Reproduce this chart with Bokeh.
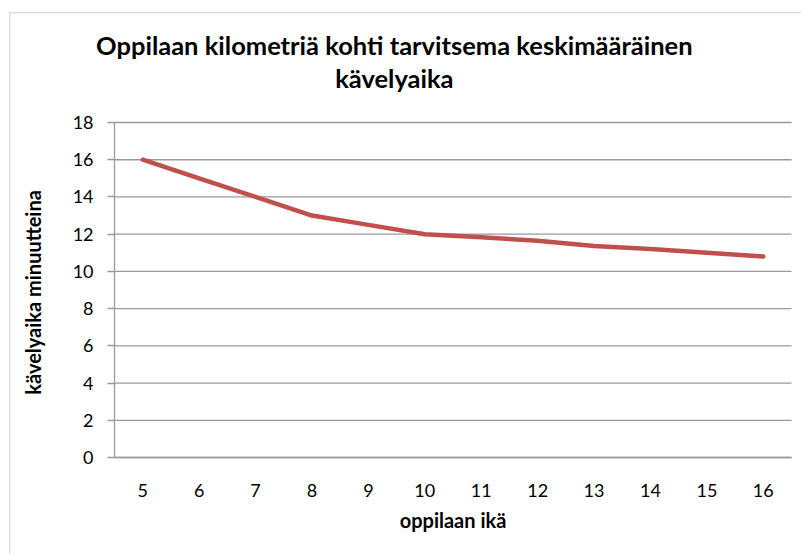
from bokeh.plotting import figure
from bokeh.models import Range1d, FixedTicker, Label, BoxAnnotation
from bokeh.embed import file_html
from bokeh.resources import INLINE

ages = [5, 6, 7, 8, 9, 10, 11, 12, 13, 14, 15, 16]
walk_minutes = [16, 15, 14, 13, 12.5, 12, 11.83, 11.65, 11.36, 11.2, 11.0, 10.8]
y_ticks = [0, 2, 4, 6, 8, 10, 12, 14, 16, 18]
title_lines = ["Oppilaan kilometriä kohti tarvitsema keskimääräinen", "kävelyaika"]
x_title = "oppilaan ikä"
y_title = "kävelyaika  minuutteina"

FONT = "Lato"
GRID = "#9a9a9a"

# category band edges of the plot area (half a step outside the first/last age)
band_lo, band_hi = ages[0] - 0.5, ages[-1] + 0.5

# frame covers the whole chart area; the axes sit inside it at fixed locations
X0, X1 = 2.621, 16.677
Y0, Y1 = -5.212, 23.965

W, H = 801, 554
p = figure(width=W, height=H, output_backend="svg", toolbar_location=None,
           x_range=Range1d(X0, X1), y_range=Range1d(Y0, Y1),
           min_border_left=8, min_border_right=0, min_border_top=11, min_border_bottom=0)
p.outline_line_color = None
p.background_fill_color = "white"
p.border_fill_color = "white"
p.xgrid.visible = False
p.ygrid.visible = False

# chart area border: only its left & top edges fall inside the window
p.add_layout(BoxAnnotation(left=X0 + 0.021, right=X1 + 5, top=Y1 - 0.065, bottom=Y0 - 5,
                           fill_alpha=0, line_color="#8c8c8c", line_width=1.3))

# horizontal gridlines limited to the plot area
n = len(y_ticks)
p.segment(x0=[band_lo] * n, x1=[band_hi] * n, y0=y_ticks, y1=y_ticks,
          line_color=GRID, line_width=1.3)

p.line(ages, walk_minutes, line_color="#C0504D", line_width=4.5, line_cap="round", line_join="round")

p.xaxis.ticker = FixedTicker(ticks=ages)
p.yaxis.ticker = FixedTicker(ticks=y_ticks)

p.xaxis.fixed_location = 0
p.xaxis.bounds = (band_lo, band_hi)
p.yaxis.fixed_location = band_lo
p.yaxis.bounds = (y_ticks[0], y_ticks[-1])

for ax in (p.xaxis[0], p.yaxis[0]):
    ax.axis_line_color = GRID
    ax.axis_line_width = 1.3
    ax.major_label_text_font = FONT
    ax.major_label_text_font_size = "18px"
    ax.major_label_text_color = "black"
    ax.minor_tick_line_color = None
    ax.axis_label_text_font = FONT
    ax.axis_label_text_font_style = "bold"
    ax.axis_label_text_color = "black"

p.xaxis.major_tick_line_color = None
p.xaxis.major_tick_out = 0
p.xaxis.major_tick_in = 0
p.xaxis.major_label_standoff = 26
p.xaxis.axis_label = x_title
p.xaxis.axis_label_text_font_size = "20px"
p.xaxis.axis_label_standoff = 8

p.yaxis.major_tick_line_color = GRID
p.yaxis.major_tick_line_width = 1.3
p.yaxis.major_tick_out = 7
p.yaxis.major_tick_in = 0
p.yaxis.major_label_standoff = 14
p.yaxis.axis_label = y_title
p.yaxis.axis_label_text_font_size = "20px"
p.yaxis.axis_label_standoff = 25

title_y = [22.15, 20.38]
for t, ty in zip(title_lines, title_y):
    p.add_layout(Label(x=9.46, y=ty, text=t,
                       text_font=FONT, text_font_style="bold", text_font_size="25.5px",
                       text_align="center", text_baseline="middle", text_color="black"))

open("out.html", "w").write(file_html(p, INLINE))
